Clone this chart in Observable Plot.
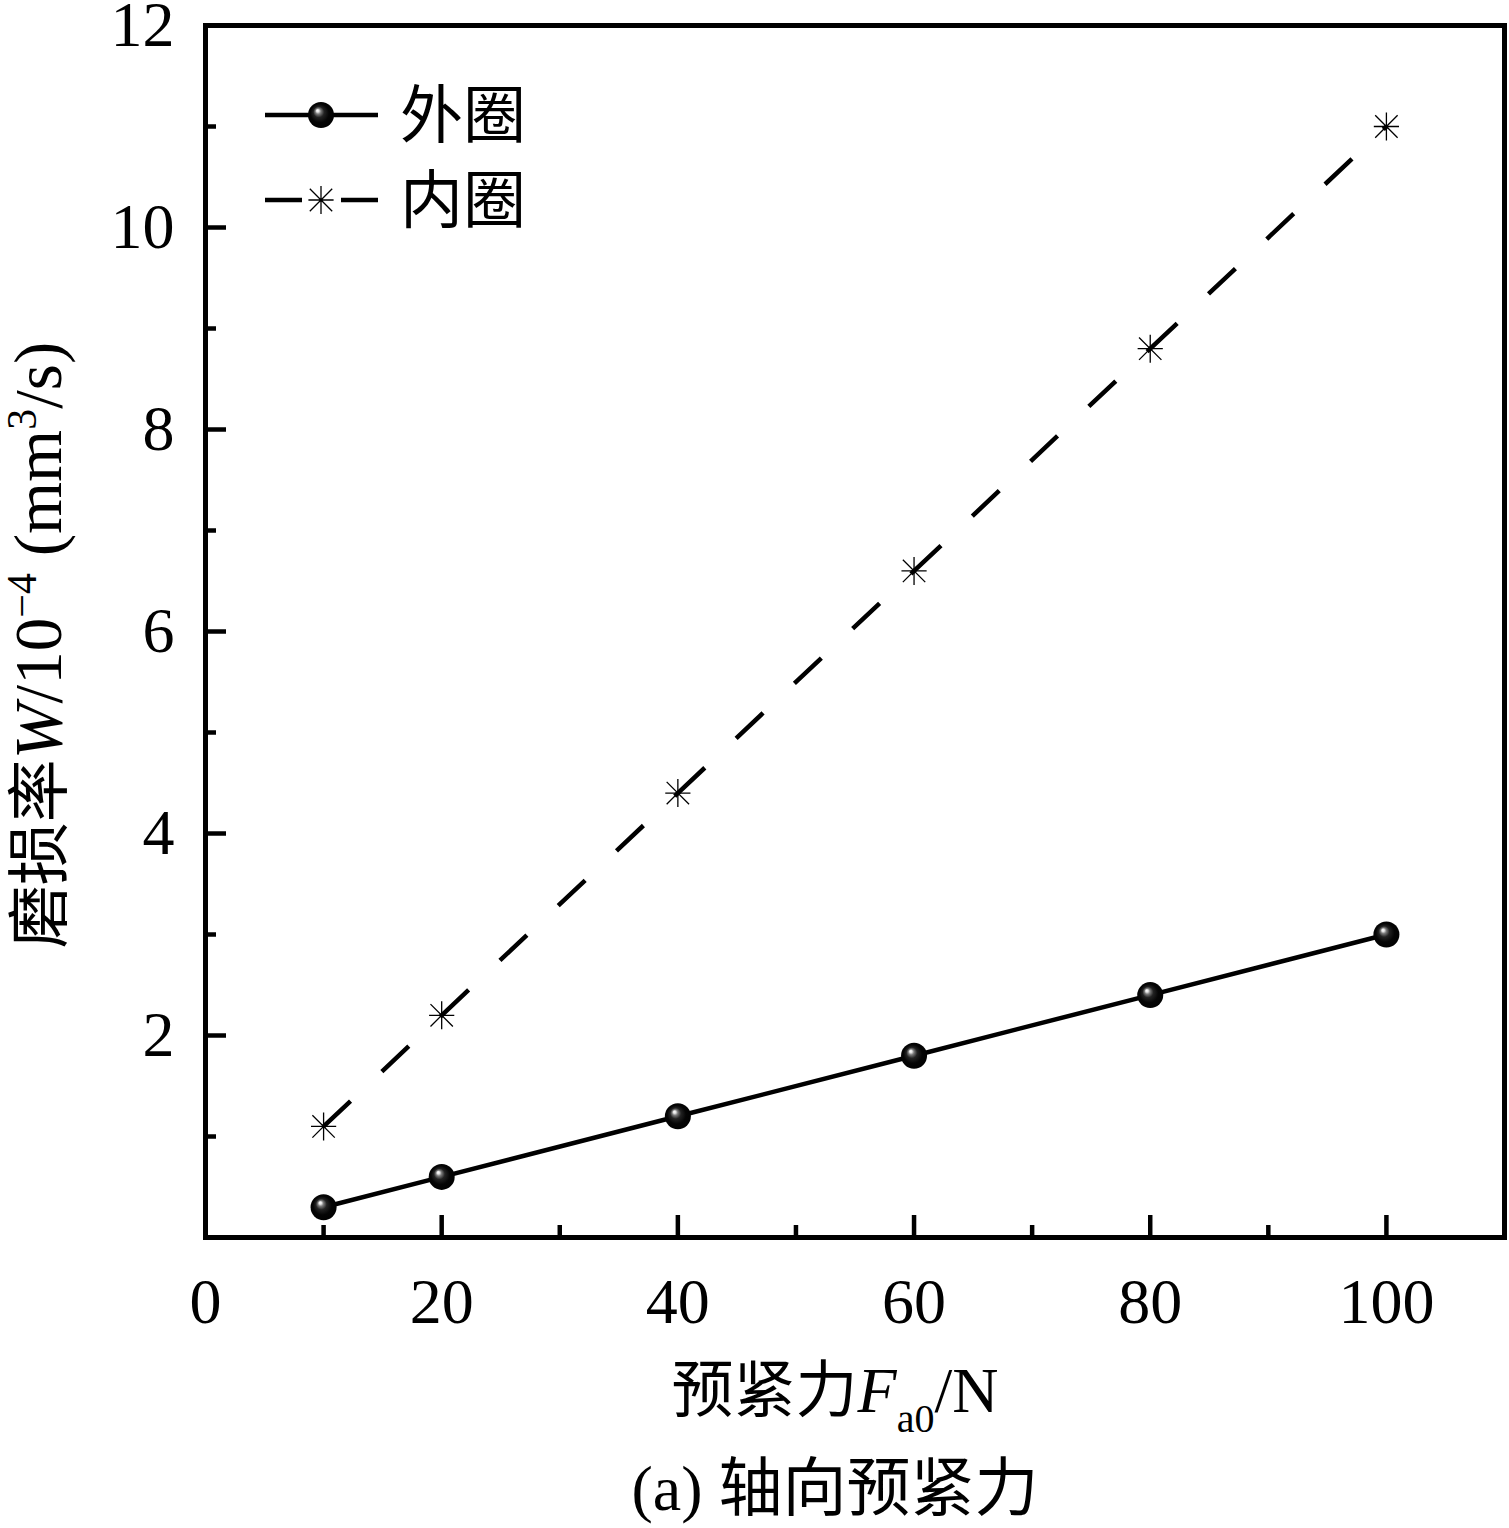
<!DOCTYPE html>
<html>
<head>
<meta charset="utf-8">
<script src="https://cdn.jsdelivr.net/npm/d3@7"></script>
<script src="https://cdn.jsdelivr.net/npm/@observablehq/plot@0.6"></script>
<style>
  html, body { margin: 0; padding: 0; background: #fff; }
  #chart { width: 1509px; height: 1528px; position: relative; }
</style>
</head>
<body>
<svg width="0" height="0" style="position:absolute">
  <defs>
    <radialGradient id="sphere" cx="0.5" cy="0.5" r="0.55" fx="0.36" fy="0.32">
      <stop offset="0" stop-color="#ffffff"/>
      <stop offset="0.09" stop-color="#e6e6e6"/>
      <stop offset="0.2" stop-color="#7a7a7a"/>
      <stop offset="0.38" stop-color="#222"/>
      <stop offset="0.65" stop-color="#050505"/>
      <stop offset="1" stop-color="#000000"/>
    </radialGradient>
  </defs>
</svg>
<div id="chart"></div>
<script>
// ---- data ----
const xValues = [10, 20, 40, 60, 80, 100];
const outerRing = [0.3, 0.6, 1.2, 1.8, 2.4, 3.0];
const innerRing = [1.1, 2.2, 4.4, 6.6, 8.8, 11.0];
const seriesNames = ["外圈", "内圈"];
const xMajor = [0, 20, 40, 60, 80, 100];
const xMinor = [10, 30, 50, 70, 90];
const yMajor = [0, 2, 4, 6, 8, 10, 12];
const yLabels = [2, 4, 6, 8, 10, 12];
const yMinor = [1, 3, 5, 7, 9, 11];

const outerData = xValues.map((x, i) => ({x, y: outerRing[i]}));
const innerData = xValues.map((x, i) => ({x, y: innerRing[i]}));
const innerSegments = d3.pairs(innerData).map(([a, b]) => ({x1: a.x, y1: a.y, x2: b.x, y2: b.y}));

const W = 1509, H = 1528;
const mL = 205, mR = 5, mT = 25, mB = 291;
const plotW = W - mL - mR, plotH = H - mT - mB;

const star8 = {
  draw(ctx, size) {
    const r = Math.sqrt(size / Math.PI);
    const d = r * 0.8;
    ctx.moveTo(-r * 0.9, 0); ctx.lineTo(r * 0.9, 0);
    ctx.moveTo(0, -r); ctx.lineTo(0, r);
    ctx.moveTo(-d, -d); ctx.lineTo(d, d);
    ctx.moveTo(-d, d); ctx.lineTo(d, -d);
  }
};

const serif = "'Liberation Serif', 'Noto Sans CJK SC', serif";
const cjk = "'Noto Sans CJK SC', 'Liberation Serif', serif";

const plot = Plot.plot({
  width: W,
  height: H,
  marginLeft: mL,
  marginRight: mR,
  marginTop: mT,
  marginBottom: mB,
  style: {fontFamily: serif, fontSize: "64px", color: "#000", background: "#fff"},
  x: {domain: [0, 110]},
  y: {domain: [0, 12]},
  marks: [
    Plot.axisX({ticks: xMajor, tickSize: 0, tickPadding: 40, label: null, tickFormat: d => String(d), fontSize: 64}),
    Plot.axisY({ticks: yLabels, tickSize: 0, tickPadding: 31, label: null, tickFormat: d => String(d), fontSize: 64}),
    Plot.ruleX(xMajor, {x: d => d, insetTop: plotH - 22, stroke: "#000", strokeWidth: 4.5}),
    Plot.ruleX(xMinor, {x: d => d, insetTop: plotH - 12, stroke: "#000", strokeWidth: 4.5}),
    Plot.ruleY(yMajor, {y: d => d, insetRight: plotW - 21, stroke: "#000", strokeWidth: 4.5}),
    Plot.ruleY(yMinor, {y: d => d, insetRight: plotW - 11, stroke: "#000", strokeWidth: 4.5}),
    Plot.link(innerSegments, {x1: "x1", y1: "y1", x2: "x2", y2: "y2", stroke: "#000", strokeWidth: 4.5, strokeDasharray: "37,43", strokeLinecap: "butt"}),
    Plot.line(outerData, {x: "x", y: "y", stroke: "#000", strokeWidth: 4.5}),
    Plot.dot(innerData, {x: "x", y: "y", symbol: star8, r: 14, stroke: "#000", strokeWidth: 1.3, fill: "none"}),
    Plot.dot(outerData, {x: "x", y: "y", r: 13, fill: "url(#sphere)", stroke: "none"}),
    Plot.frame({stroke: "#000", strokeWidth: 5})
  ]
});

document.getElementById("chart").appendChild(plot);
const svg = d3.select(plot);

// ---- legend ----
const leg = svg.append("g").attr("class", "legend").attr("text-anchor", "start");
const rows = [
  {name: seriesNames[0], y: 115, dashed: false},
  {name: seriesNames[1], y: 200, dashed: true}
];
rows.forEach(r => {
  if (r.dashed) {
    leg.append("line").attr("x1", 265).attr("x2", 302).attr("y1", r.y).attr("y2", r.y).attr("stroke", "#000").attr("stroke-width", 4.5);
    leg.append("line").attr("x1", 341).attr("x2", 378).attr("y1", r.y).attr("y2", r.y).attr("stroke", "#000").attr("stroke-width", 4.5);
    const a = 14, d = 11.2;
    leg.append("path")
      .attr("d", `M${321 - a * 0.9},${r.y}L${321 + a * 0.9},${r.y}M321,${r.y - a}L321,${r.y + a}M${321 - d},${r.y - d}L${321 + d},${r.y + d}M${321 - d},${r.y + d}L${321 + d},${r.y - d}`)
      .attr("stroke", "#000").attr("stroke-width", 1.3).attr("fill", "none");
  } else {
    leg.append("line").attr("x1", 265).attr("x2", 378).attr("y1", r.y).attr("y2", r.y).attr("stroke", "#000").attr("stroke-width", 4.5);
    leg.append("circle").attr("cx", 321).attr("cy", r.y).attr("r", 13).attr("fill", "url(#sphere)");
  }
  leg.append("text").attr("x", 400).attr("y", r.y + 22).attr("text-anchor", "start")
    .attr("font-family", cjk).attr("font-size", 63).attr("fill", "#000").text(r.name);
});

// ---- y label ----
const yl = svg.append("text")
  .attr("transform", "translate(61,645) rotate(-90)")
  .attr("text-anchor", "middle")
  .style("font-family", serif)
  .attr("font-size", 67)
  .attr("fill", "#000");
yl.append("tspan").style("font-family", cjk).attr("font-size", 63).text("磨损率");
yl.append("tspan").style("font-family", "'Liberation Serif'").style("font-style", "italic").text("W");
yl.append("tspan").style("font-family", "'Liberation Serif'").text("/10");
yl.append("tspan").style("font-family", "'Liberation Serif'").attr("font-size", 42).attr("dy", -25).text("−4");
yl.append("tspan").style("font-family", "'Liberation Serif'").attr("dy", 25).text(" (mm");
yl.append("tspan").style("font-family", "'Liberation Serif'").attr("font-size", 42).attr("dy", -25).text("3");
yl.append("tspan").style("font-family", "'Liberation Serif'").attr("dy", 25).text("/s)");

// ---- x label ----
const xl = svg.append("text")
  .attr("x", 835).attr("y", 1412)
  .attr("text-anchor", "middle")
  .style("font-family", serif)
  .attr("font-size", 64)
  .attr("fill", "#000");
xl.append("tspan").style("font-family", cjk).attr("font-size", 62).text("预紧力");
xl.append("tspan").style("font-family", "'Liberation Serif'").style("font-style", "italic").text("F");
xl.append("tspan").style("font-family", "'Liberation Serif'").attr("font-size", 40).attr("dy", 20).text("a0");
xl.append("tspan").style("font-family", "'Liberation Serif'").attr("dy", -20).text("/N");

// ---- caption ----
const cap = svg.append("text")
  .attr("x", 835).attr("y", 1510)
  .attr("text-anchor", "middle")
  .style("font-family", serif)
  .attr("font-size", 64)
  .attr("fill", "#000");
cap.append("tspan").style("font-family", "'Liberation Serif'").text("(a) ");
cap.append("tspan").style("font-family", cjk).attr("font-size", 64).text("轴向预紧力");
</script>
</body>
</html>
